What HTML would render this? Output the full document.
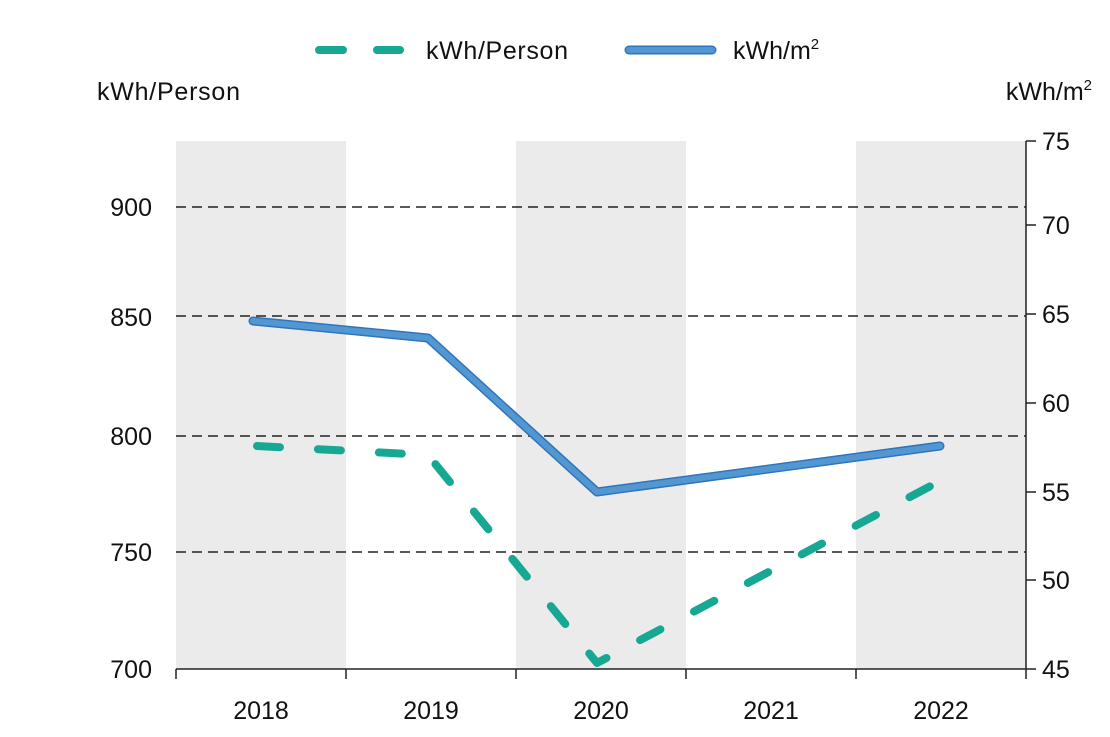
<!DOCTYPE html>
<html><head><meta charset="utf-8"><style>
html,body{margin:0;padding:0;background:#fff;}
svg{display:block;font-family:"Liberation Sans",sans-serif;}
</style></head><body>
<svg width="1110" height="737" viewBox="0 0 1110 737">
<rect x="176" y="141" width="170" height="528" fill="#ebebeb"/>
<rect x="516" y="141" width="170" height="528" fill="#ebebeb"/>
<rect x="856" y="141" width="170" height="528" fill="#ebebeb"/>
<g stroke="#222" stroke-width="1.5" stroke-dasharray="10 6">
<line x1="176" y1="207" x2="1026" y2="207"/>
<line x1="176" y1="316" x2="1026" y2="316"/>
<line x1="176" y1="436" x2="1026" y2="436"/>
<line x1="176" y1="552" x2="1026" y2="552"/>
</g>
<g stroke="#222" stroke-width="1.5">
<line x1="176" y1="669" x2="1026" y2="669"/>
<line x1="176" y1="669" x2="176" y2="679"/>
<line x1="346" y1="669" x2="346" y2="679"/>
<line x1="516" y1="669" x2="516" y2="679"/>
<line x1="686" y1="669" x2="686" y2="679"/>
<line x1="856" y1="669" x2="856" y2="679"/>
<line x1="1026" y1="669" x2="1026" y2="679"/>
<line x1="1026" y1="141" x2="1026" y2="669"/>
<line x1="1026" y1="141" x2="1036" y2="141"/>
<line x1="1026" y1="225" x2="1036" y2="225"/>
<line x1="1026" y1="314" x2="1036" y2="314"/>
<line x1="1026" y1="403" x2="1036" y2="403"/>
<line x1="1026" y1="492" x2="1036" y2="492"/>
<line x1="1026" y1="580" x2="1036" y2="580"/>
<line x1="1026" y1="669" x2="1036" y2="669"/>
</g>
<polyline points="253,321 428,338 597,492 940,446" fill="none" stroke="#2f75bb" stroke-width="9" stroke-linejoin="round" stroke-linecap="round"/>
<polyline points="253,321 428,338 597,492 940,446" fill="none" stroke="#5397d2" stroke-width="6" stroke-linejoin="round" stroke-linecap="round"/>
<polyline points="257,446 428,455 597,663 940,481" fill="none" stroke="#16a893" stroke-width="8" stroke-dasharray="23 38" stroke-linecap="round" stroke-linejoin="round"/>
<g font-size="25" fill="#111">
<g text-anchor="end">
<text x="152" y="216">900</text>
<text x="152" y="326">850</text>
<text x="152" y="445">800</text>
<text x="152" y="561">750</text>
<text x="152" y="678">700</text>
</g>
<g text-anchor="start">
<text x="1042" y="150">75</text>
<text x="1042" y="234">70</text>
<text x="1042" y="323">65</text>
<text x="1042" y="412">60</text>
<text x="1042" y="501">55</text>
<text x="1042" y="589">50</text>
<text x="1042" y="678">45</text>
</g>
<g text-anchor="middle">
<text x="261" y="719">2018</text>
<text x="431" y="719">2019</text>
<text x="601" y="719">2020</text>
<text x="771" y="719">2021</text>
<text x="941" y="719">2022</text>
</g>
<text x="97" y="100" textLength="143">kWh/Person</text>
<text x="1092" y="100" text-anchor="end">kWh/m<tspan font-size="15" dy="-10">2</tspan></text>
<text x="426" y="59" textLength="142">kWh/Person</text>
<text x="733" y="59">kWh/m<tspan font-size="15" dy="-10">2</tspan></text>
</g>
<line x1="319" y1="50" x2="400" y2="50" stroke="#16a893" stroke-width="8" stroke-dasharray="24 34" stroke-linecap="round"/>
<line x1="629" y1="50" x2="712" y2="50" stroke="#2f75bb" stroke-width="9" stroke-linecap="round"/>
<line x1="629" y1="50" x2="712" y2="50" stroke="#5397d2" stroke-width="6" stroke-linecap="round"/>
</svg>
</body></html>
